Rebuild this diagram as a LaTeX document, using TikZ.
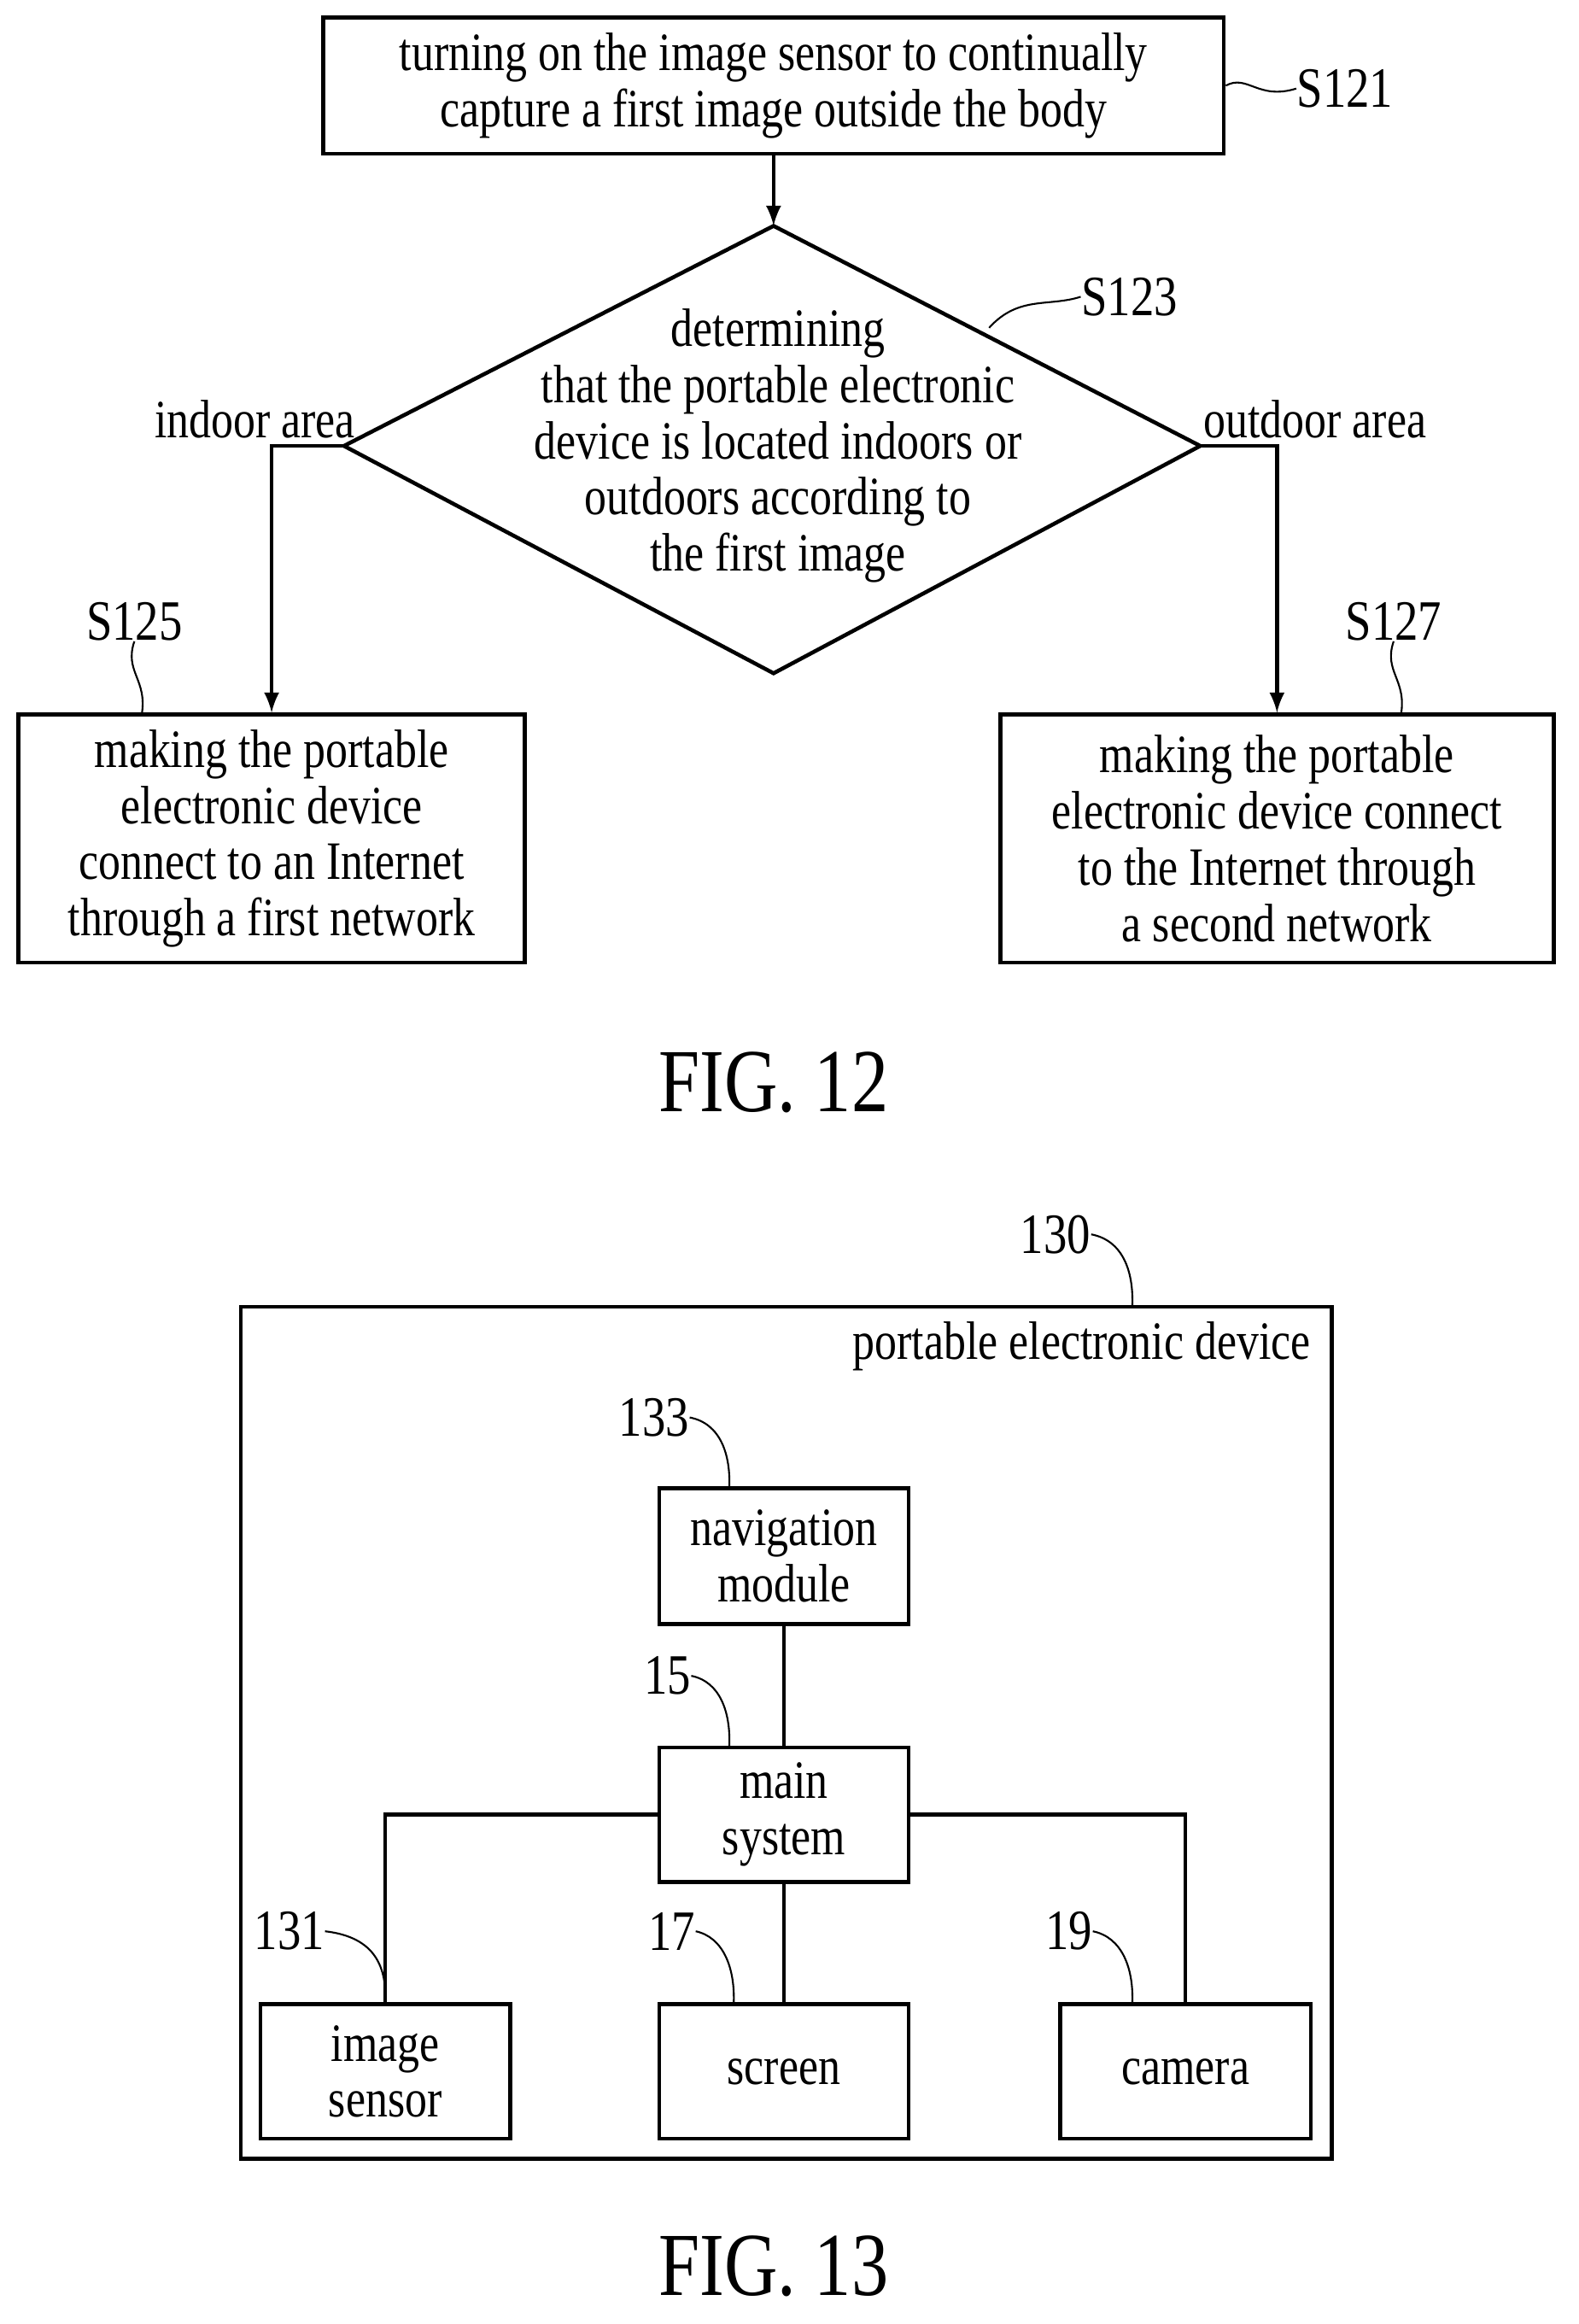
\documentclass[tikz,border=0pt]{standalone}
\usepackage{fontspec}
\setmainfont{Liberation Serif}[FakeStretch=0.82]
\usetikzlibrary{arrows}
\tikzset{
  box/.style={draw, line width=1.3pt, align=center, inner sep=0pt,
    font=\fontsize{18}{18.7}\selectfont},
  txt/.style={align=center, inner sep=0pt, font=\fontsize{18}{18.7}\selectfont},
  lbl/.style={inner sep=0pt, font=\fontsize{19}{20}\selectfont},
  wire/.style={line width=1.3pt},
  lead/.style={line width=0.6pt},
  fig/.style={inner sep=0pt, font=\fontsize{30}{30}\selectfont}
}
\begin{document}
\begin{tikzpicture}[x=0.017287cm, y=-0.017287cm]
        \useasboundingbox (0, 0) rectangle (1069, 1574);
        % FIG. 12
        \node[box, minimum width=610*0.017287cm, minimum height=92*0.017287cm] (s121) at (524, 58)
          {turning on the image sensor to continually\\capture a first image outside the body};
        \coordinate (top) at (524, 153);
        \coordinate (lft) at (233, 302);
        \coordinate (rgt) at (813, 302);
        \coordinate (bot) at (524, 456);
        \draw[wire] (top) -- (rgt) -- (bot) -- (lft) -- cycle;
        \node[txt] (s123) at (527, 302) {determining\\that the portable electronic\\device is located indoors or\\outdoors according to\\the first image};
        \node[box, minimum width=343*0.017287cm, minimum height=168*0.017287cm] (s125) at (184, 568)
          {making the portable\\electronic device\\connect to an Internet\\through a first network};
        \node[box, minimum width=375*0.017287cm, minimum height=168*0.017287cm] (s127) at (865, 568)
          {making the portable\\electronic device connect\\to the Internet through\\a second network};
        \draw[wire, -latex] (s121.south) -- (top);
        \draw[wire, -latex] (lft) -| (s125.north);
        \draw[wire, -latex] (rgt) -| (s127.north);
        \node[txt, anchor=south east] (in) at (241, 297) {indoor area};
        \node[txt, anchor=south west] (out) at (815, 297) {outdoor area};
        \node[lbl] (n121) at (911, 60) {S121};
        \draw[lead] (s121.east) .. controls (845, 50) and (852, 68) .. (n121.west);
        \node[lbl] (n123) at (765, 201) {S123};
        \draw[lead] (670, 222) .. controls (690, 200) and (710, 208) .. (n123.west);
        \node[lbl] (n125) at (91, 421) {S125};
        \draw[lead] (n125.south) .. controls (84, 455) and (100, 460) .. (96, 484);
        \node[lbl] (n127) at (944, 421) {S127};
        \draw[lead] (n127.south) .. controls (937, 455) and (953, 460) .. (949, 484);
        \node[fig] (f12) at (524, 733) {FIG. 12};
        % FIG. 13
        \draw[wire] (163, 885) rectangle (902, 1462);
        \node[txt, anchor=east] (ped) at (888, 912) {portable electronic device};
        \node[box, minimum width=169*0.017287cm, minimum height=92*0.017287cm] (nav) at (531, 1054) {navigation\\module};
        \node[box, minimum width=169*0.017287cm, minimum height=91*0.017287cm] (main) at (531, 1229) {main\\system};
        \node[box, minimum width=169*0.017287cm, minimum height=91*0.017287cm] (img) at (261, 1403) {image\\sensor};
        \node[box, minimum width=169*0.017287cm, minimum height=91*0.017287cm] (scr) at (531, 1403) {screen};
        \node[box, minimum width=170*0.017287cm, minimum height=91*0.017287cm] (cam) at (803, 1403) {camera};
        \draw[wire] (nav) -- (main);
        \draw[wire] (main) -- (scr);
        \draw[wire] (main.west) -| (img.north);
        \draw[wire] (main.east) -| (cam.north);
        \node[lbl] (n130) at (715, 836) {130};
        \draw[lead] (n130.east) .. controls (760, 840) and (768, 860) .. (767, 885);
        \node[lbl] (n133) at (443, 960) {133};
        \draw[lead] (n133.east) .. controls (488, 964) and (495, 985) .. (494, 1008);
        \node[lbl] (n15) at (452, 1135) {15};
        \draw[lead] (n15.east) .. controls (488, 1139) and (495, 1160) .. (494, 1183);
        \node[lbl] (n131) at (196, 1308) {131};
        \draw[lead] (n131.east) .. controls (255, 1312) and (262, 1333) .. (261, 1357);
        \node[lbl] (n17) at (455, 1308) {17};
        \draw[lead] (n17.east) .. controls (490, 1312) and (498, 1333) .. (497, 1357);
        \node[lbl] (n19) at (724, 1308) {19};
        \draw[lead] (n19.east) .. controls (760, 1312) and (768, 1333) .. (767, 1357);
        \node[fig] (f13) at (524, 1535) {FIG. 13};
    \end{tikzpicture}
\end{document}
